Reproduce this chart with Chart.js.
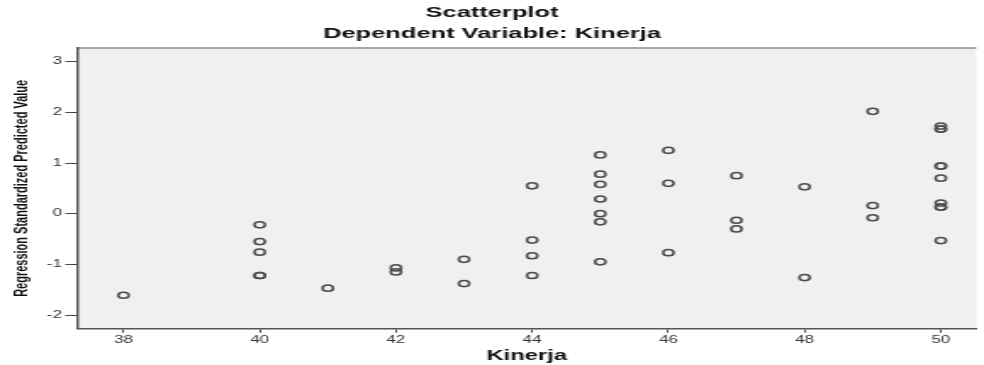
<!DOCTYPE html>
<html>
<head>
<meta charset="utf-8">
<script src="https://cdn.jsdelivr.net/npm/chart.js@4.4.1/dist/chart.umd.min.js"></script>
<style>
   html, body { margin: 0; padding: 0; background: #fff; overflow: hidden; }
   /* the reference picture is stretched sideways, so the chart is drawn narrow and widened */
   #marco { width: 580px; height: 365px; transform: scaleX(1.6966); transform-origin: 0 0; }
</style>
</head>
<body>
<div id="marco"><canvas id="grafica"></canvas></div>
<script>
// Kinerja (x) and the regression standardized predicted value (y), one entry per case
const kinerja = [
   38,
   40, 40, 40, 40, 40,
   41,
   42, 42,
   43, 43,
   44, 44, 44, 44,
   45, 45, 45, 45, 45, 45, 45,
   46, 46, 46,
   47, 47, 47,
   48, 48,
   49, 49, 49,
   50, 50, 50, 50, 50, 50, 50, 50, 50, 50
];
const predicho = [
   -1.61,
   -0.22, -0.55, -0.76, -1.22, -1.22,
   -1.47,
   -1.07, -1.15,
   -0.90, -1.38,
   0.55, -0.52, -0.83, -1.22,
   1.16, 0.78, 0.58, 0.29, 0.00, -0.16, -0.95,
   1.25, 0.60, -0.77,
   0.75, -0.13, -0.30,
   0.53, -1.26,
   2.02, 0.16, -0.08,
   1.73, 1.67, 1.67, 0.94, 0.94, 0.70, 0.21, 0.13, 0.13, -0.53
];
const ticksX = [38, 40, 42, 44, 46, 48, 50];
const ticksY = [-2, -1, 0, 1, 2, 3];

const puntos = kinerja.map((k, i) => ({ x: k, y: predicho[i] }));

const fuente = "'Liberation Sans', Arial, sans-serif";

const fondo = {
   id: 'fondo',
   beforeDraw(chart) {
      const { ctx, chartArea: a } = chart;
      ctx.save();
      ctx.fillStyle = '#f0f0f0';
      ctx.fillRect(a.left, a.top, a.right - a.left, a.bottom - a.top);
      ctx.strokeStyle = '#8c8c8c';
      ctx.lineWidth = 1.5;
      ctx.beginPath();
      ctx.moveTo(a.left, a.top);
      ctx.lineTo(a.right, a.top);
      ctx.stroke();
      ctx.restore();
   }
};

const ctx = document.getElementById('grafica').getContext('2d');

const chart = new Chart(ctx, {
   type: 'scatter',
   data: {
      datasets: [{
         label: 'Kinerja',
         data: puntos,
         borderColor: '#4a4a4a',
         backgroundColor: 'rgba(0,0,0,0)',
         pointRadius: 3.1,
         pointBorderWidth: 1.5,
         pointHoverRadius: 3.1
      }]
   },
   options: {
      responsive: true,
      maintainAspectRatio: false,
      animation: false,
      events: [],
      layout: { padding: 0 },
      plugins: {
         legend: { display: false },
         tooltip: { enabled: false },
         title: {
            display: true,
            text: 'Scatterplot',
            color: '#111',
            font: { family: fuente, size: 15, weight: 'bold' },
            padding: { top: 4, bottom: 3 }
         },
         subtitle: {
            display: true,
            text: 'Dependent Variable: Kinerja',
            color: '#111',
            font: { family: fuente, size: 15, weight: 'bold' },
            padding: { top: 0, bottom: 5 }
         }
      },
      scales: {
         x: {
            type: 'linear',
            min: 37.32,
            max: 50.52,
            afterFit: s => { s.height = 36.3; },
            afterBuildTicks: s => { s.ticks = ticksX.map(v => ({ value: v })); },
            border: { display: true, color: '#555', width: 1.5 },
            grid: { drawOnChartArea: false, drawTicks: true, tickLength: 4, tickColor: '#444', tickWidth: 1 },
            ticks: { color: '#333', font: { family: fuente, size: 10 }, padding: 2, maxRotation: 0, autoSkip: false },
            title: {
               display: true,
               text: 'Kinerja',
               color: '#111',
               font: { family: fuente, size: 14, weight: 'bold' },
               padding: { top: 0, bottom: 0 }
            }
         },
         y: {
            type: 'linear',
            min: -2.27,
            max: 3.27,
            afterFit: s => { s.width = 45.5; },
            afterBuildTicks: s => { s.ticks = ticksY.map(v => ({ value: v })); },
            border: { display: true, color: '#555', width: 1.5 },
            grid: { drawOnChartArea: false, drawTicks: true, tickLength: 7, tickColor: '#444', tickWidth: 1 },
            ticks: { color: '#333', font: { family: fuente, size: 10 }, padding: 2 },
            title: {
               display: true,
               text: 'Regression Standardized Predicted Value',
               color: '#111',
               font: { family: fuente, size: 11, weight: 'bold' },
               padding: { top: 6, bottom: 0 }
            }
         }
      }
   },
   plugins: [fondo]
});
</script>
</body>
</html>
